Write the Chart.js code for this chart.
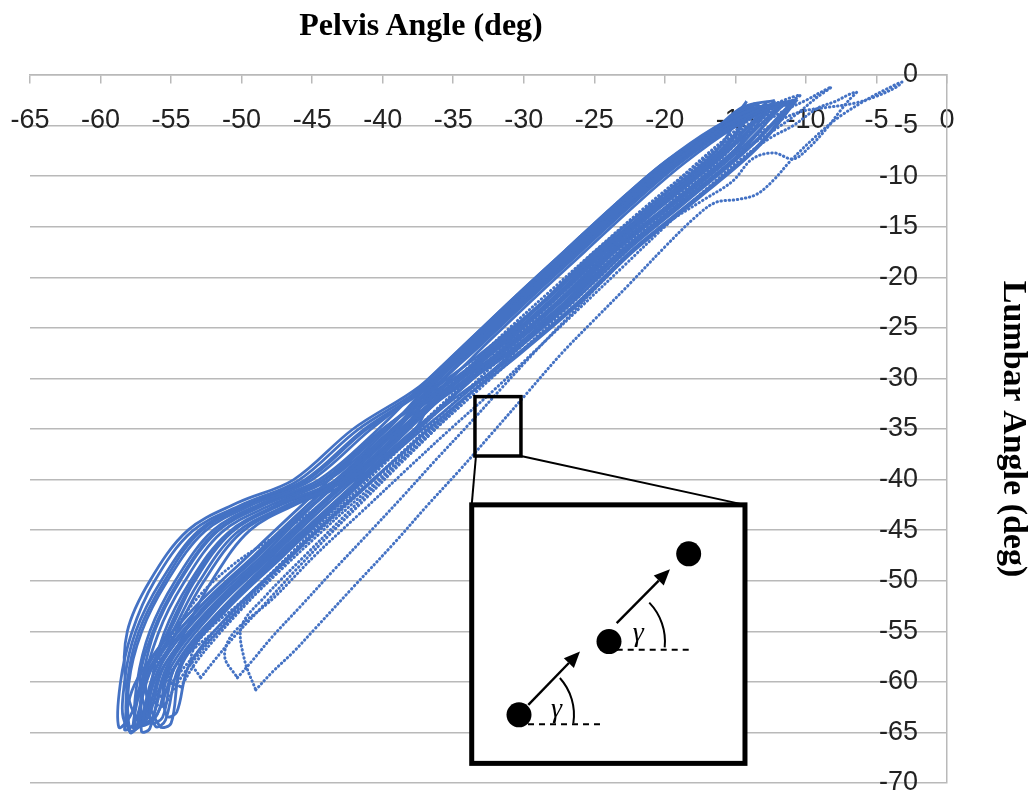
<!DOCTYPE html>
<html>
<head>
<meta charset="utf-8">
<script src="https://cdn.jsdelivr.net/npm/chart.js@4.4.0/dist/chart.umd.min.js"></script>
<style>
html,body{margin:0;padding:0;background:#fff;}
#wrap{position:relative;width:1030px;height:800px;overflow:hidden;}
#c{position:absolute;left:0;top:0;}
#xtitle{position:absolute;left:421px;top:8px;transform:translateX(-50%);font-family:"Liberation Serif","Times New Roman",serif;font-weight:bold;font-size:32px;line-height:1;color:#000;white-space:nowrap;}
</style>
</head>
<body>
<div id="wrap">
<canvas id="c" width="1030" height="800"></canvas>
<div id="xtitle">Pelvis Angle (deg)</div>
</div>
<script>
// ---------- axis ticks ----------
const xTickValues = [-65,-60,-55,-50,-45,-40,-35,-30,-25,-20,-15,-10,-5,0];
const yTickValues = [0,-5,-10,-15,-20,-25,-30,-35,-40,-45,-50,-55,-60,-65,-70];
const xTitle = 'Pelvis Angle (deg)';
const yTitle = 'Lumbar Angle (deg)';

// ---------- main repeated cycles (pelvis, lumbar) ----------
const cycleM1 = [[-12.5,-3],[-15.5,-7.5],[-19.8,-12.5],[-24.2,-17.5],[-28,-22.5],[-32.2,-27.5],[-36.5,-32.5],[-40.5,-37.5],[-44.5,-42.5],[-48.3,-47.5],[-52.3,-52.8],[-55.5,-58.5],[-56.6,-63.5],
  [-57.5,-64.3],[-57.4,-60],[-56.5,-55],[-54.7,-50],[-52,-45],[-48.5,-42.3],[-44.5,-40],[-40.3,-35],[-37.3,-30.8],[-34,-26.4],[-30.6,-21.9],[-27.1,-17.4],[-23.6,-12.9],[-20.1,-8.7],[-16.5,-5.2],[-13.5,-3.2],[-12.5,-3]];
const cycleM2 = [[-11.5,-2.8],[-14.7,-7.4],[-19,-12.4],[-23.4,-17.3],[-27.2,-22.6],[-31.4,-27.4],[-35.7,-32.6],[-39.7,-37.4],[-43.7,-42.6],[-47.5,-47.4],[-51.5,-52.9],[-54.7,-58.4],[-55.6,-63.5],
  [-56.4,-64],[-56.4,-60.2],[-55.5,-55.2],[-53.7,-50.2],[-51,-45.3],[-47.5,-42.5],[-43.5,-40.2],[-39.3,-35.2],[-36.7,-30.9],[-33.4,-26.5],[-30,-22],[-26.5,-17.5],[-23,-13],[-19.5,-8.8],[-15.9,-5.2],[-12.6,-3],[-11.5,-2.8]];
const cycleM3 = [[-13.6,-2.8],[-16,-7.6],[-20.3,-12.6],[-24.7,-17.6],[-28.5,-22.4],[-32.7,-27.6],[-37,-32.4],[-41.2,-37.6],[-45.2,-42.4],[-49,-47.6],[-53,-52.7],[-56.4,-58.6],[-57.9,-63.4],
  [-58.7,-64.5],[-58.6,-60.2],[-57.8,-55.2],[-56.2,-50.1],[-53.5,-45.1],[-50,-42.5],[-46,-40.1],[-41.8,-35.1],[-37.2,-30.9],[-33.9,-26.5],[-30.5,-22],[-27,-17.5],[-23.5,-13],[-20,-8.8],[-16.5,-5.4],[-14.3,-3.3],[-13.6,-2.8]];
const cycleM4 = [[-12,-3.2],[-15.2,-7.6],[-19.5,-12.6],[-23.9,-17.4],[-27.7,-22.5],[-31.9,-27.6],[-36.2,-32.4],[-40.2,-37.6],[-44.2,-42.4],[-48,-47.6],[-52,-52.8],[-55.2,-58.4],[-56.3,-63.5],
  [-57,-64.1],[-56.2,-60],[-54.6,-55],[-52.7,-50.1],[-50,-45.2],[-46.5,-42.5],[-42.5,-40],[-38.3,-35],[-36.5,-30.8],[-33.2,-26.4],[-29.8,-21.9],[-26.3,-17.4],[-22.8,-12.9],[-19.3,-8.7],[-15.7,-5.2],[-12.9,-3.4],[-12,-3.2]];
const cycleM5 = [[-14.2,-2.6],[-16.3,-7.4],[-20.6,-12.4],[-25,-17.5],[-28.8,-22.6],[-33,-27.5],[-37.7,-32.5],[-41.7,-37.4],[-45.7,-42.5],[-49.5,-47.5],[-53.5,-52.9],[-56.7,-58.6],[-57.4,-64.4],
  [-57.9,-65],[-58,-60.2],[-57.1,-55.1],[-55.3,-50.1],[-52.6,-45.1],[-49.1,-42.4],[-45.1,-40.1],[-40.9,-35.1],[-37.1,-30.9],[-33.8,-26.5],[-30.4,-22],[-26.9,-17.5],[-23.4,-13],[-19.9,-8.8],[-16.3,-5.3],[-14.6,-3.3],[-14.2,-2.6]];
const cycleM6 = [[-10.8,-2.6],[-14,-7.2],[-18.3,-12.3],[-22.7,-17.4],[-26.5,-22.4],[-30.7,-27.4],[-35,-32.5],[-39.2,-37.4],[-43.2,-42.5],[-47,-47.5],[-51,-52.8],[-54.2,-58.2],[-55,-64.1],
  [-55.8,-64.4],[-56.8,-60.5],[-55.9,-55.2],[-54.1,-50.2],[-51.4,-45.2],[-47.9,-42.5],[-43.9,-40.1],[-39.7,-35.1],[-36.9,-30.9],[-33.6,-26.5],[-30.2,-22],[-26.7,-17.5],[-23.2,-13],[-19.7,-8.8],[-16.1,-5.1],[-13.1,-3.1],[-10.8,-2.6]];
const cycleM7 = [[-13,-3.4],[-15.7,-7.5],[-20,-12.5],[-24.4,-17.6],[-28.2,-22.5],[-32.4,-27.5],[-36.8,-32.6],[-40.8,-37.5],[-44.8,-42.4],[-48.6,-47.6],[-52.6,-52.8],[-55.8,-58.5],[-57,-63.8],
  [-57.6,-64.6],[-57.2,-60.4],[-55,-55.3],[-53.1,-50.3],[-50.4,-45.3],[-46.9,-42.6],[-42.9,-40.1],[-38.7,-35.2],[-36.3,-30.9],[-33,-26.5],[-29.6,-22],[-26.1,-17.5],[-22.6,-13],[-19.1,-8.8],[-15.5,-5.2],[-13.6,-3.6],[-13,-3.4]];
const cycleM8 = [[-12.2,-2.5],[-14.9,-7.4],[-19.2,-12.5],[-23.6,-17.5],[-27.4,-22.5],[-31.6,-27.5],[-35.6,-32.5],[-39.6,-37.5],[-43.6,-42.5],[-47.4,-47.5],[-51.4,-52.8],[-54.6,-58.2],[-56,-63.2],
  [-57.2,-64],[-58.2,-60.3],[-58.1,-55],[-56.5,-50],[-53.8,-45],[-50.3,-42.3],[-46.3,-40],[-42.1,-35],[-37.4,-30.8],[-34,-26.4],[-30.6,-21.9],[-27.1,-17.4],[-23.6,-12.9],[-20.1,-8.7],[-16.5,-5.4],[-14.5,-3.2],[-12.2,-2.5]];
const cycleM9 = [[-11.2,-3],[-14.3,-7.5],[-18.6,-12.5],[-23,-17.5],[-26.8,-22.5],[-31,-27.5],[-36.3,-32.5],[-40.3,-37.5],[-44.3,-42.5],[-48.1,-47.5],[-52.1,-52.8],[-55.3,-58.5],[-56.5,-64.6],
  [-57.1,-64.9],[-56.9,-60.6],[-55.3,-55.2],[-53.5,-50.2],[-50.8,-45.2],[-47.3,-42.5],[-43.3,-40.2],[-39.1,-35.2],[-37,-30.9],[-33.7,-26.5],[-30.3,-22],[-26.8,-17.5],[-23.3,-13],[-19.8,-8.8],[-16.2,-5.2],[-12.2,-3.1],[-11.2,-3]];
const cycleM10 = [[-13.3,-2.9],[-16.1,-7.5],[-20.4,-12.5],[-24.8,-17.5],[-28.6,-22.5],[-32.8,-27.5],[-36.3,-32.5],[-40,-37.5],[-44,-42.5],[-47.8,-47.5],[-51.8,-52.8],[-55,-58.5],[-56.2,-63.7],
  [-58.2,-64.2],[-58.3,-60],[-57.5,-55],[-55.7,-50],[-53,-45],[-49.5,-42.3],[-45.5,-40],[-41.3,-35],[-36.8,-30.8],[-33.5,-26.4],[-30.1,-21.9],[-26.6,-17.4],[-23.1,-12.9],[-19.6,-8.7],[-16,-5.2],[-13.8,-3.1],[-13.3,-2.9]];
const cycleM11 = [[-10.6,-2.4],[-13.5,-7.3],[-17.8,-12.4],[-22.2,-17.4],[-26,-22.5],[-30.2,-27.5],[-34.7,-32.5],[-38.7,-37.5],[-42.7,-42.5],[-46.5,-47.5],[-50.5,-52.8],[-53.7,-58.3],[-54.6,-63],
  [-55.3,-63.4],[-55.5,-60],[-54,-55],[-52.1,-50],[-49.4,-45],[-45.9,-42.3],[-41.9,-40],[-37.7,-35],[-36.1,-30.8],[-32.8,-26.4],[-29.4,-21.9],[-25.9,-17.4],[-22.4,-12.9],[-18.9,-8.7],[-15.3,-5.2],[-12,-2.9],[-10.6,-2.4]];
const cycleM12 = [[-12.8,-2.7],[-15.1,-7.5],[-19.4,-12.5],[-23.8,-17.5],[-27.6,-22.5],[-31.8,-27.5],[-37,-32.5],[-41,-37.5],[-45,-42.5],[-48.8,-47.5],[-52.8,-52.8],[-56,-58.5],[-57.2,-63.9],
  [-57.7,-64.5],[-57.1,-60.1],[-56.2,-55.1],[-54.4,-50.1],[-51.7,-45.1],[-48.2,-42.4],[-44.2,-40.1],[-40,-35.1],[-36.4,-30.9],[-33.1,-26.5],[-29.7,-22],[-26.2,-17.5],[-22.7,-13],[-19.2,-8.8],[-15.6,-5.2],[-13.2,-3.2],[-12.8,-2.7]];
const cycleM13 = [[-11.8,-2.9],[-14.5,-7.5],[-18.8,-12.5],[-23.2,-17.5],[-27,-22.5],[-31.2,-27.5],[-36.4,-32.5],[-40.4,-37.5],[-44.4,-42.5],[-48.2,-47.5],[-52.2,-52.8],[-55.6,-58.6],[-56.9,-63.9],
  [-58,-64.8],[-58.1,-60.1],[-57.3,-55.1],[-55.5,-50.1],[-52.9,-45.1],[-49.4,-42.4],[-45.4,-40.1],[-41.2,-35.1],[-36.8,-30.9],[-33.5,-26.5],[-30.1,-22],[-26.6,-17.5],[-23.1,-13],[-19.6,-8.8],[-16,-5.3],[-12.8,-3.1],[-11.8,-2.9]];
const cycleM14 = [[-13.9,-3.1],[-15.8,-7.5],[-20.1,-12.5],[-24.5,-17.5],[-28.3,-22.5],[-32.5,-27.5],[-37.3,-32.5],[-41.3,-37.5],[-45.3,-42.5],[-49.1,-47.5],[-53.1,-52.8],[-56.3,-58.5],[-57.6,-64.1],
  [-58.3,-64.7],[-57.6,-60.3],[-55.2,-55.2],[-53.4,-50.2],[-50.7,-45.2],[-47.2,-42.5],[-43.2,-40.1],[-39,-35.1],[-36.6,-30.9],[-33.3,-26.5],[-29.9,-22],[-26.4,-17.5],[-22.9,-13],[-19.4,-8.8],[-15.8,-5.2],[-14.3,-3.3],[-13.9,-3.1]];
const cycleM15 = [[-10.9,-2.8],[-13.7,-7.4],[-18,-12.4],[-22.4,-17.4],[-26.2,-22.5],[-30.4,-27.5],[-35.4,-32.5],[-39.4,-37.5],[-43.4,-42.5],[-47.2,-47.5],[-51.2,-52.8],[-54.4,-58.4],[-55.4,-63.8],
  [-56.1,-64.4],[-57.2,-60.3],[-56.3,-55.1],[-54.5,-50.1],[-51.8,-45.1],[-48.3,-42.4],[-44.3,-40.1],[-40.1,-35.1],[-35.9,-30.9],[-32.6,-26.5],[-29.2,-22],[-25.7,-17.5],[-22.2,-13],[-18.7,-8.8],[-15.1,-5.2],[-12,-3],[-10.9,-2.8]];

// ---------- sparse outer cycles (dotted traces) ----------
const cycleS1 = [[-49,-60.8],[-47.8,-59],[-46.3,-57],[-44.9,-54.9],[-42,-50.5],[-39.2,-46.3],[-36.8,-42.5],[-34.5,-39],[-32.3,-35.5],[-29.8,-31.5],[-27.3,-27.5],[-25,-24.2],[-22.6,-20.8],[-20,-17],[-17.8,-14],[-16.4,-12.6],[-14.8,-12.3],[-13.5,-11.8],[-12.3,-10.4],[-11.1,-8.5],[-9.4,-6.2],[-7.8,-4.3],[-5.9,-2.6],[-4.3,-1.4],[-3.2,-0.7],
  [-3.6,-1.2],[-5,-2.1],[-6.6,-2.8],[-8.5,-3.2],[-10.3,-3.6],[-12,-4.6],[-13.8,-6.3],[-16,-9],[-18.5,-12],[-21.5,-15.8],[-24.5,-19.8],[-27.5,-23.8],[-30.5,-27.7],[-33.5,-31.5],[-36.5,-35.3],[-39.5,-39.2],[-42.5,-43.3],[-45.5,-47.5],[-48.3,-51.5],[-50,-54.5],[-49.8,-57.8],[-49,-60.8]];
const cycleS2 = [[-50.3,-59.6],[-49.3,-58],[-47.8,-55.5],[-45.8,-52.5],[-43.5,-49],[-41,-45.3],[-38.6,-41.7],[-36.2,-38],[-34,-34.7],[-31.6,-31],[-29.3,-27.5],[-26.9,-24],[-24.5,-20.5],[-22,-17],[-19.6,-14.4],[-17.2,-12.3],[-15.2,-10.5],[-13.8,-8.3],[-12.3,-7.7],[-10.9,-8.3],[-9.8,-7.2],[-8.6,-5.4],[-7.6,-3.6],[-6.9,-2.4],[-6.4,-1.7],
  [-6.9,-1.9],[-7.9,-2.6],[-9.2,-3.3],[-10.9,-5],[-12.5,-6.2],[-14.5,-8.2],[-17,-11.2],[-20,-15],[-23,-19],[-26,-23],[-29,-27],[-32,-31],[-35.2,-35],[-38.3,-39],[-41.5,-43.2],[-44.8,-47.5],[-47.8,-51.8],[-50.6,-55.2],[-51.2,-57.5],[-50.3,-59.6]];
const cycleS3 = [[-52.9,-59.6],[-52,-58],[-50.5,-55.5],[-48.5,-52.5],[-46.2,-49],[-43.8,-45.5],[-41.3,-42],[-38.8,-38.5],[-36.4,-35.2],[-34,-31.8],[-31.5,-28.3],[-29,-25],[-26.5,-21.7],[-24,-18.4],[-21.4,-15],[-18.8,-11.8],[-16.3,-9],[-14,-7],[-12.2,-5.4],[-10.6,-3.8],[-9.3,-2.3],[-8.2,-1.2],
  [-8.8,-1.6],[-10,-2.5],[-11.5,-3.5],[-13.5,-5.2],[-16,-8],[-19,-11.8],[-22,-15.8],[-25,-19.8],[-28,-23.8],[-31,-27.8],[-34,-31.7],[-37,-35.5],[-40,-39.3],[-43.2,-43.2],[-46.6,-47.5],[-49.8,-51.8],[-52.8,-55.5],[-53.6,-57.8],[-52.9,-59.6]];
const cycleS4 = [[-55.5,-62.5],[-54.5,-60],[-53,-57.2],[-51,-54],[-48.7,-50.5],[-46.3,-47],[-43.8,-43.5],[-41.3,-40],[-38.8,-36.6],[-36.3,-33.2],[-33.7,-29.8],[-31.2,-26.5],[-28.6,-23],[-26,-19.6],[-23.4,-16.2],[-20.8,-12.8],[-18.2,-9.6],[-15.6,-6.6],[-13.2,-4.3],[-11.3,-2.8],[-10.4,-2],
  [-11.2,-2.3],[-12.8,-3.3],[-15,-5.5],[-17.8,-8.8],[-21,-13],[-24.2,-17.3],[-27.4,-21.5],[-30.5,-25.6],[-33.6,-29.8],[-36.8,-34],[-40,-38.2],[-43.4,-42.5],[-46.8,-46.8],[-50,-51],[-52.8,-55.2],[-55,-59],[-56.2,-62],[-55.5,-62.5]];
const cycleS5 = [[-56.8,-62.8],[-56.2,-59],[-55,-55.5],[-53,-51.5],[-50.5,-48.3],[-47.5,-45.5],[-44.5,-42.6],[-41.8,-39.4],[-39.3,-36.2],[-36.8,-32.8],[-34,-29],[-31,-25],[-28,-21.2],[-24.8,-17.2],[-21.6,-13.3],[-18.3,-9.5],[-15.2,-6],[-12.6,-3.6],
  [-14.8,-6.6],[-17.6,-10.4],[-20.9,-14.7],[-24.3,-19],[-27.7,-23.5],[-31,-27.9],[-34.3,-32.2],[-37.6,-36.5],[-40.9,-40.8],[-44.2,-45],[-47.5,-49.3],[-50.6,-53.5],[-53.6,-57.8],[-55.8,-61.5],[-56.8,-62.8]];
const cycleS6 = [[-54.3,-60.5],[-53.3,-58.2],[-51.8,-55.6],[-49.6,-52.2],[-47.3,-48.8],[-45,-45.5],[-42.5,-42],[-40,-38.6],[-37.6,-35.3],[-35.2,-32],[-32.7,-28.7],[-30.2,-25.4],[-27.6,-22],[-25,-18.6],[-22.3,-15.2],[-19.6,-11.8],[-17,-8.6],[-14.5,-5.6],[-12.4,-3.4],[-11.6,-2.6],
  [-12.8,-3.6],[-15.6,-7],[-18.8,-11],[-22.2,-15.4],[-25.5,-19.8],[-28.8,-24.2],[-32.1,-28.6],[-35.4,-33],[-38.7,-37.4],[-42,-41.8],[-45.4,-46.2],[-48.8,-50.6],[-51.8,-54.8],[-54.6,-58.3],[-55.2,-59.8],[-54.3,-60.5]];

const mainCycles = [cycleM1,cycleM2,cycleM3,cycleM4,cycleM5,cycleM6,cycleM7,cycleM8,cycleM9,cycleM10,cycleM11,cycleM12,cycleM13,cycleM14,cycleM15];
const sparseCycles = [cycleS1,cycleS2,cycleS3,cycleS4,cycleS5,cycleS6];

// ---------- inset annotation anchors (data units) ----------
const zoomBoxX = [-33.46, -30.2];
const zoomBoxY = [-31.8, -37.67];
const insetBoxX = [-33.69, -14.32];
const insetBoxY = [-42.5, -68.06];

const BLUE = '#4472C4';
const toXY = arr => arr.map(p => ({x: p[0], y: p[1]}));

const datasets = [];
mainCycles.forEach((c, i) => datasets.push({
  label: 'cycle ' + (i + 1), data: toXY(c), showLine: true, borderColor: BLUE, backgroundColor: BLUE,
  borderWidth: 2.8, pointRadius: 0, tension: 0.35, fill: false
}));
sparseCycles.forEach((c, i) => datasets.push({
  label: 'outer ' + (i + 1), data: toXY(c), showLine: true, borderColor: BLUE, backgroundColor: BLUE,
  borderWidth: 3, borderDash: [0.5, 3.6], borderCapStyle: 'round', pointRadius: 0, tension: 0.35, fill: false
}));

const insetPlugin = {
  id: 'inset',
  afterDatasetsDraw(chart) {
    const {ctx, scales: {x, y}} = chart;
    const sx0 = x.getPixelForValue(zoomBoxX[0]), sx1 = x.getPixelForValue(zoomBoxX[1]);
    const sy0 = y.getPixelForValue(zoomBoxY[0]), sy1 = y.getPixelForValue(zoomBoxY[1]);
    const bx0 = x.getPixelForValue(insetBoxX[0]), bx1 = x.getPixelForValue(insetBoxX[1]);
    const by0 = y.getPixelForValue(insetBoxY[0]), by1 = y.getPixelForValue(insetBoxY[1]);
    const W = bx1 - bx0, s = W / 273.3;
    const P = (lx, ly) => [bx0 + lx * s, by0 + ly * s];
    ctx.save();
    ctx.strokeStyle = '#000'; ctx.fillStyle = '#000'; ctx.lineCap = 'butt';
    ctx.lineWidth = 2;
    ctx.beginPath(); ctx.moveTo(sx0 + 1, sy1); ctx.lineTo(bx0, by0); ctx.stroke();
    ctx.beginPath(); ctx.moveTo(sx1, sy1); ctx.lineTo(bx1, by0); ctx.stroke();
    ctx.lineWidth = 3.5;
    ctx.strokeRect(sx0, sy0, sx1 - sx0, sy1 - sy0);
    ctx.fillStyle = '#fff';
    ctx.fillRect(bx0, by0, bx1 - bx0, by1 - by0);
    ctx.lineWidth = 5;
    ctx.strokeRect(bx0, by0, bx1 - bx0, by1 - by0);
    ctx.fillStyle = '#000';
    [[47.3, 210], [137.3, 136.7], [217, 49]].forEach(d => {
      const [px, py] = P(d[0], d[1]);
      ctx.beginPath(); ctx.arc(px, py, 12.5 * s, 0, Math.PI * 2); ctx.fill();
    });
    const arrow = (a, b) => {
      const [x0, y0] = P(a[0], a[1]), [x1, y1] = P(b[0], b[1]);
      const ang = Math.atan2(y1 - y0, x1 - x0), L = 16 * s, Hw = 7 * s;
      const xb = x1 - L * Math.cos(ang), yb = y1 - L * Math.sin(ang);
      ctx.lineWidth = 2.4;
      ctx.beginPath(); ctx.moveTo(x0, y0); ctx.lineTo(xb, yb); ctx.stroke();
      ctx.beginPath(); ctx.moveTo(x1, y1);
      ctx.lineTo(xb + Hw * Math.sin(ang), yb - Hw * Math.cos(ang));
      ctx.lineTo(xb - Hw * Math.sin(ang), yb + Hw * Math.cos(ang));
      ctx.closePath(); ctx.fill();
    };
    arrow([56.6, 200], [108.3, 146.7]);
    arrow([145, 118.3], [198.3, 64.3]);
    ctx.lineWidth = 2; ctx.setLineDash([6, 5]);
    [[[56.3, 219.3], [128.3, 219.3]], [[145, 145], [218.3, 145]]].forEach(l => {
      const [x0, y0] = P(l[0][0], l[0][1]), [x1, y1] = P(l[1][0], l[1][1]);
      ctx.beginPath(); ctx.moveTo(x0, y0); ctx.lineTo(x1, y1); ctx.stroke();
    });
    ctx.setLineDash([]);
    ctx.lineWidth = 2;
    [[[47.3, 210], 55, -42, 9], [[137.3, 136.7], 56, -44, 6]].forEach(a => {
      const [cx, cy] = P(a[0][0], a[0][1]);
      ctx.beginPath(); ctx.arc(cx, cy, a[1] * s, a[2] * Math.PI / 180, a[3] * Math.PI / 180); ctx.stroke();
    });
    ctx.font = 'italic 28px "Liberation Serif", "DejaVu Serif", serif';
    ctx.textAlign = 'center'; ctx.textBaseline = 'middle';
    [[84.8, 205], [166.6, 129]].forEach(g => {
      const [gx, gy] = P(g[0], g[1]);
      ctx.fillText('γ', gx, gy);
    });
    ctx.restore();
  }
};

const tickFont = {family: '"Liberation Sans", Arial, sans-serif', size: 27};
const GRID = '#b9b9b9';

new Chart(document.getElementById('c'), {
  type: 'scatter',
  data: {datasets},
  options: {
    responsive: false, animation: false, events: [],
    layout: {padding: {top: 75, left: 30, right: 0, bottom: 17}},
    plugins: {legend: {display: false}, tooltip: {enabled: false}, title: {display: false}},
    scales: {
      x: {
        type: 'linear', position: {y: 0}, min: -65, max: 0,
        afterBuildTicks: sc => { sc.ticks = xTickValues.map(v => ({value: v})); },
        afterFit: sc => { sc.height = 0; sc.paddingLeft = 0; sc.paddingRight = 0; sc.paddingTop = 0; sc.paddingBottom = 0; },
        grid: {display: true, drawOnChartArea: false, drawTicks: true, tickLength: 8, color: GRID, lineWidth: 1.5},
        border: {display: true, color: GRID, width: 1.5},
        ticks: {padding: 21, font: tickFont, color: '#222', maxRotation: 0, autoSkip: false}
      },
      y: {
        type: 'linear', position: 'right', min: -70, max: 0,
        afterBuildTicks: sc => { sc.ticks = yTickValues.map(v => ({value: v})); },
        afterFit: sc => { sc.width = 83; sc.paddingTop = 0; sc.paddingBottom = 0; },
        grid: {display: true, drawOnChartArea: true, drawTicks: false, tickLength: 0, color: GRID, lineWidth: 1.5},
        border: {display: true, color: GRID, width: 1.5},
        ticks: {mirror: true, padding: -29, font: tickFont, color: '#222'},
        title: {display: true, text: yTitle, color: '#000', padding: {top: 0, bottom: 0},
          font: {family: '"Liberation Serif", "Times New Roman", serif', size: 34, weight: 'bold', lineHeight: 1}}
      }
    }
  },
  plugins: [insetPlugin]
});
</script>
</body>
</html>
